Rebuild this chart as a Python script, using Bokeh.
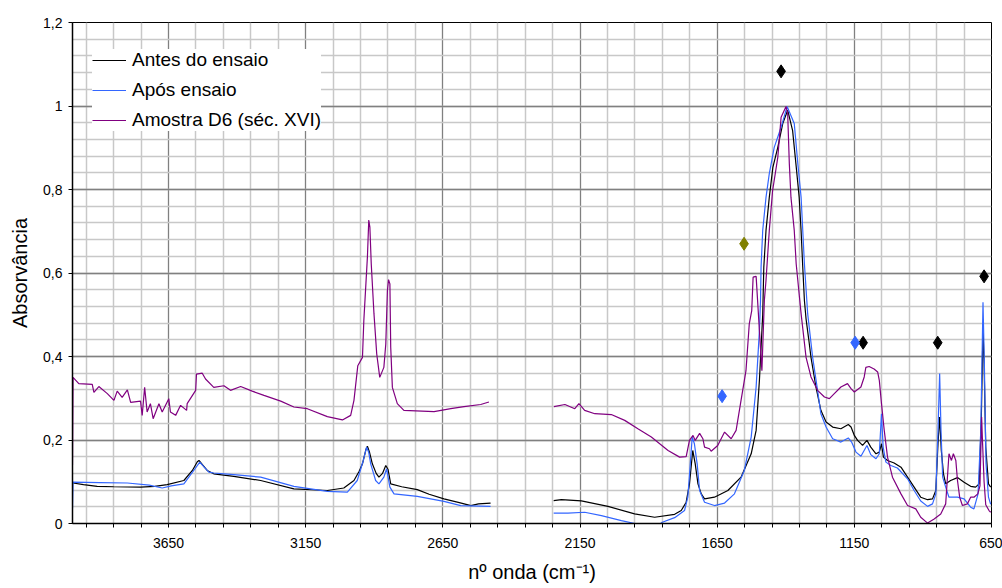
import numpy as np
from bokeh.plotting import figure
from bokeh.models import Range1d, FixedTicker, Legend, LegendItem, CustomJSTickFormatter
from bokeh.embed import file_html
from bokeh.resources import INLINE

# ---------------- data (wavenumber cm-1, absorbance) ----------------
# "Antes do ensaio" (black)
antes_x1 = [3998, 3960, 3910, 3850, 3752, 3700, 3655, 3594, 3563, 3545, 3539, 3525, 3509, 3485, 3412, 3314,
            3193, 3071, 3011, 2974, 2955, 2943, 2930, 2925, 2917, 2907, 2893, 2883, 2870, 2858, 2850, 2840,
            2800, 2743, 2700, 2646, 2590, 2548, 2520, 2476]
antes_y1 = [0.097, 0.093, 0.089, 0.088, 0.087, 0.089, 0.093, 0.103, 0.127, 0.148, 0.151, 0.140, 0.127, 0.119,
            0.113, 0.103, 0.083, 0.079, 0.085, 0.103, 0.125, 0.143, 0.178, 0.185, 0.170, 0.143, 0.120, 0.111,
            0.120, 0.139, 0.130, 0.095, 0.088, 0.081, 0.070, 0.059, 0.050, 0.043, 0.047, 0.049]
antes_x2 = [2246, 2218, 2145, 2048, 1951, 1878, 1805, 1781, 1763, 1751, 1739, 1730, 1720, 1708, 1696, 1660,
            1611, 1563, 1526, 1508, 1496, 1484, 1480, 1472, 1460, 1447, 1429, 1411, 1393, 1375, 1363, 1351,
            1344, 1338, 1332, 1326, 1316, 1308, 1290, 1272, 1253, 1229, 1199, 1172, 1162, 1150, 1138, 1120,
            1104, 1090, 1071, 1059, 1051, 1044, 1029, 1005, 980, 956, 932, 908, 883, 865, 853, 845, 839, 833,
            825, 817, 799, 774, 750, 726, 708, 695, 687, 681, 677, 671, 661, 653]
antes_y2 = [0.055, 0.057, 0.054, 0.041, 0.023, 0.015, 0.022, 0.031, 0.051, 0.095, 0.175, 0.143, 0.095, 0.071,
            0.059, 0.063, 0.079, 0.111, 0.167, 0.223, 0.343, 0.500, 0.614, 0.702, 0.781, 0.853, 0.901, 0.958,
            0.990, 0.941, 0.862, 0.781, 0.700, 0.614, 0.534, 0.490, 0.440, 0.398, 0.327, 0.271, 0.243, 0.231,
            0.227, 0.237, 0.231, 0.211, 0.199, 0.187, 0.199, 0.183, 0.167, 0.171, 0.191, 0.159, 0.151, 0.145,
            0.135, 0.111, 0.087, 0.063, 0.057, 0.059, 0.079, 0.191, 0.255, 0.175, 0.119, 0.095, 0.103, 0.110,
            0.099, 0.089, 0.087, 0.095, 0.255, 0.470, 0.382, 0.183, 0.095, 0.087]

# "Após ensaio" (blue)
apos_x1 = [4000, 3998, 3900, 3800, 3720, 3673, 3640, 3594, 3558, 3536, 3520, 3503, 3485, 3412, 3314, 3193,
           3132, 3071, 2998, 2962, 2940, 2928, 2920, 2913, 2895, 2883, 2865, 2855, 2843, 2828, 2743, 2646,
           2585, 2476]
apos_y1 = [0.036, 0.099, 0.098, 0.097, 0.092, 0.085, 0.090, 0.095, 0.127, 0.147, 0.135, 0.123, 0.121, 0.117,
           0.111, 0.089, 0.083, 0.077, 0.075, 0.103, 0.151, 0.183, 0.170, 0.143, 0.103, 0.095, 0.111, 0.131,
           0.087, 0.071, 0.065, 0.053, 0.043, 0.041]
apos_x2 = [2246, 2194, 2133, 2072, 1999, 1950, 1939, 1866, 1850, 1805, 1769, 1757, 1748, 1741, 1733, 1723,
           1714, 1696, 1660, 1623, 1587, 1551, 1526, 1508, 1496, 1492, 1490, 1484, 1472, 1460, 1442, 1417,
           1395, 1369, 1356, 1344, 1338, 1332, 1320, 1302, 1284, 1272, 1253, 1229, 1199, 1172, 1160, 1144,
           1126, 1104, 1090, 1071, 1059, 1051, 1045, 1035, 1017, 993, 956, 932, 908, 883, 865, 853, 845, 839,
           834, 828, 817, 805, 774, 750, 726, 714, 699, 689, 681, 676, 670, 661, 653]
apos_y2 = [0.025, 0.025, 0.027, 0.019, 0.007, 0.000, -0.005, -0.005, 0.003, 0.014, 0.031, 0.063, 0.143, 0.207,
           0.191, 0.143, 0.079, 0.051, 0.043, 0.049, 0.071, 0.127, 0.207, 0.327, 0.462, 0.534, 0.614, 0.702,
           0.781, 0.838, 0.901, 0.949, 0.999, 0.958, 0.862, 0.781, 0.702, 0.622, 0.502, 0.398, 0.319, 0.263,
           0.231, 0.203, 0.195, 0.205, 0.195, 0.171, 0.161, 0.187, 0.165, 0.155, 0.167, 0.263, 0.183, 0.147,
           0.139, 0.133, 0.107, 0.079, 0.054, 0.041, 0.047, 0.071, 0.223, 0.359, 0.223, 0.111, 0.087, 0.063,
           0.063, 0.059, 0.039, 0.035, 0.071, 0.223, 0.530, 0.382, 0.143, 0.063, 0.046]

# "Amostra D6 (séc. XVI)" (purple)
d6_x1 = [4000, 3998, 3977, 3928, 3922, 3904, 3873, 3849, 3837, 3819, 3800, 3788, 3752, 3746, 3737, 3728, 3716,
         3706, 3685, 3673, 3649, 3643, 3624, 3606, 3584, 3582, 3551, 3548, 3527, 3515, 3485, 3448, 3424, 3387,
         3345, 3302, 3241, 3193, 3144, 3071, 3016, 2986, 2974, 2960, 2943, 2938, 2925, 2920, 2916, 2911, 2901,
         2891, 2880, 2865, 2858, 2852, 2848, 2843, 2840, 2834, 2816, 2792, 2682, 2621, 2573, 2512, 2482]
d6_y1 = [0.140, 0.350, 0.335, 0.333, 0.314, 0.328, 0.311, 0.295, 0.317, 0.302, 0.320, 0.290, 0.293, 0.259,
         0.326, 0.267, 0.287, 0.251, 0.287, 0.267, 0.299, 0.267, 0.259, 0.283, 0.271, 0.287, 0.319, 0.358,
         0.360, 0.346, 0.326, 0.330, 0.319, 0.328, 0.317, 0.307, 0.293, 0.279, 0.275, 0.256, 0.248, 0.259,
         0.295, 0.378, 0.398, 0.486, 0.638, 0.727, 0.710, 0.622, 0.502, 0.406, 0.350, 0.374, 0.430, 0.558,
         0.584, 0.574, 0.422, 0.326, 0.287, 0.271, 0.268, 0.275, 0.280, 0.285, 0.291]
d6_x2 = [2245, 2205, 2169, 2154, 2133, 2096, 2036, 1987, 1939, 1890, 1829, 1787, 1763, 1751, 1738, 1730, 1714,
         1702, 1696, 1678, 1672, 1648, 1623, 1599, 1581, 1563, 1545, 1533, 1524, 1519, 1508, 1496, 1487, 1478,
         1472, 1460, 1448, 1429, 1417, 1399, 1393, 1387, 1381, 1369, 1362, 1350, 1344, 1326, 1308, 1284, 1259,
         1241, 1223, 1199, 1175, 1162, 1150, 1126, 1114, 1108, 1096, 1078, 1065, 1059, 1051, 1041, 1029, 1011,
         980, 956, 926, 908, 883, 859, 835, 817, 805, 796, 789, 780, 774, 766, 756, 738, 726, 714, 700, 692,
         686, 683, 677, 671, 659, 653]
d6_y2 = [0.280, 0.285, 0.275, 0.287, 0.271, 0.263, 0.261, 0.247, 0.227, 0.207, 0.175, 0.159, 0.160, 0.199,
         0.211, 0.199, 0.216, 0.203, 0.183, 0.179, 0.173, 0.187, 0.219, 0.203, 0.223, 0.295, 0.366, 0.478,
         0.510, 0.590, 0.592, 0.462, 0.366, 0.534, 0.582, 0.702, 0.797, 0.877, 0.973, 0.999, 0.982, 0.862,
         0.781, 0.702, 0.622, 0.542, 0.502, 0.398, 0.351, 0.319, 0.303, 0.299, 0.311, 0.327, 0.335, 0.323,
         0.315, 0.327, 0.351, 0.374, 0.376, 0.370, 0.363, 0.343, 0.287, 0.223, 0.159, 0.111, 0.071, 0.043,
         0.035, 0.015, 0.001, 0.011, 0.023, 0.047, 0.167, 0.151, 0.167, 0.151, 0.103, 0.063, 0.043, 0.047,
         0.063, 0.063, 0.071, 0.090, 0.255, 0.200, 0.100, 0.045, 0.031, 0.027]

# band markers (diamonds)
mark_black_x = [1417, 1118, 846, 677]
mark_black_y = [1.083, 0.433, 0.433, 0.592]
mark_blue_x = [1632, 1147]
mark_blue_y = [0.305, 0.433]
mark_olive_x = [1552]
mark_olive_y = [0.670]

x_major = [3650, 3150, 2650, 2150, 1650, 1150, 650]
y_major = [0, 0.2, 0.4, 0.6, 0.8, 1.0, 1.2]

for a, b in [(antes_x1, antes_y1), (antes_x2, antes_y2), (apos_x1, apos_y1), (apos_x2, apos_y2),
             (d6_x1, d6_y1), (d6_x2, d6_y2)]:
    assert len(a) == len(b), (len(a), len(b))


def join(xa, ya, xb, yb):
    return (np.array(xa + [np.nan] + xb, dtype=float), np.array(ya + [np.nan] + yb, dtype=float))


FONT = "Liberation Sans"
BLUE = "#3366FF"
PURPLE = "#800080"

p = figure(width=1002, height=588, output_backend="svg", toolbar_location=None,
           x_range=Range1d(4000, 650), y_range=Range1d(0, 1.2),
           min_border_left=72, min_border_right=11, min_border_top=22, min_border_bottom=65)
p.background_fill_color = "white"
p.border_fill_color = "white"
p.outline_line_color = "black"
p.outline_line_width = 1

x_minor = [v for v in range(3950, 649, -100) if v not in x_major]
y_minor = [round(k * 0.04, 2) for k in range(31)]

xt = FixedTicker(ticks=x_major, minor_ticks=x_minor)
yt = FixedTicker(ticks=y_major, minor_ticks=y_minor)
p.xaxis.ticker = xt
p.yaxis.ticker = yt
p.xgrid.ticker = xt
p.ygrid.ticker = yt
for g in (p.xgrid, p.ygrid):
    g.grid_line_color = "#808080"
    g.grid_line_width = 1.3
    g.minor_grid_line_color = "#c8c8c8"
    g.minor_grid_line_width = 1.5

p.yaxis.formatter = CustomJSTickFormatter(
    code="const s = (Math.round(tick * 10) / 10).toString(); return s.replace('.', ',');")

for ax in (p.xaxis, p.yaxis):
    ax.axis_line_color = "black"
    ax.axis_line_width = 1.5
    ax.major_tick_line_color = "black"
    ax.minor_tick_line_color = "black"
    ax.major_tick_in = 0
    ax.minor_tick_in = 0
    ax.major_label_text_font = FONT
    ax.major_label_text_font_size = "14px"
    ax.major_label_text_color = "black"
    ax.axis_label_text_font = FONT
    ax.axis_label_text_font_size = "20px"
    ax.axis_label_text_font_style = "normal"
    ax.axis_label_text_color = "black"

p.xaxis.major_tick_out = 4
p.xaxis.minor_tick_out = 4
p.xaxis.major_label_standoff = 10
p.xaxis.axis_label = "nº onda (cm⁻¹)"
p.xaxis.axis_label_standoff = 10

p.yaxis.major_tick_out = 4
p.yaxis.minor_tick_out = 0
p.yaxis.major_label_standoff = 6
p.yaxis.axis_label = "Absorvância"
p.yaxis.axis_label_standoff = 9

ax_, ay_ = join(antes_x1, antes_y1, antes_x2, antes_y2)
bx_, by_ = join(apos_x1, apos_y1, apos_x2, apos_y2)
px_, py_ = join(d6_x1, d6_y1, d6_x2, d6_y2)

r_antes = p.line(ax_, ay_, line_color="black", line_width=1.2)
r_apos = p.line(bx_, by_, line_color=BLUE, line_width=1.2)
r_d6 = p.line(px_, py_, line_color=PURPLE, line_width=1.2)

p.scatter(mark_black_x, mark_black_y, marker="diamond", size=13, fill_color="black", line_color="black")
p.scatter(mark_blue_x, mark_blue_y, marker="diamond", size=13, fill_color=BLUE, line_color=BLUE)
p.scatter(mark_olive_x, mark_olive_y, marker="diamond", size=13, fill_color="#808000", line_color="#808000")

legend = Legend(items=[LegendItem(label="Antes do ensaio", renderers=[r_antes]),
                       LegendItem(label="Após ensaio", renderers=[r_apos]),
                       LegendItem(label="Amostra D6 (séc. XVI)", renderers=[r_d6])],
                location=(20, 392), orientation="vertical")
legend.label_text_font = FONT
legend.label_text_font_size = "19px"
legend.label_text_color = "black"
legend.label_height = 22
legend.glyph_height = 22
legend.glyph_width = 34
legend.label_standoff = 6
legend.spacing = 8
legend.padding = 10
legend.margin = 0
legend.border_line_color = None
legend.background_fill_color = "white"
legend.background_fill_alpha = 1.0
p.add_layout(legend, "center")

open("out.html", "w").write(file_html(p, INLINE))
